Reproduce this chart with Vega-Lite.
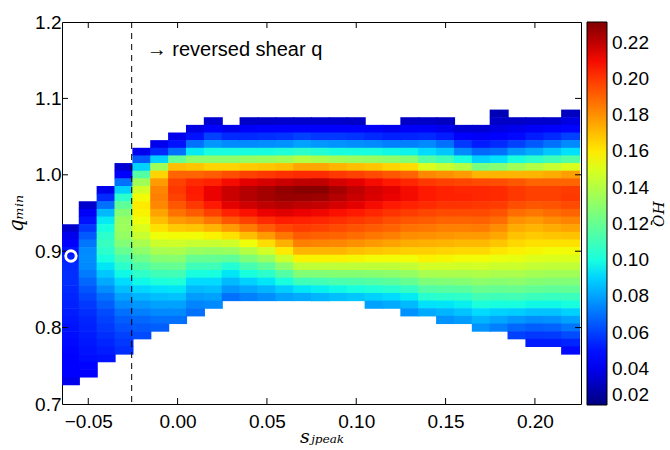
{
"$schema":"https://vega.github.io/schema/vega-lite/v6.json",
"width":519,"height":382,
"autosize":{"type":"none"},
"padding":{"left":62,"top":22,"right":89,"bottom":46},
"config":{"font":"Liberation Sans","view":{"stroke":"#000","strokeWidth":1},"axis":{"grid":false,"domain":false,"ticks":false,"labelColor":"#000","labelFontSize":19,"labelFont":"Liberation Sans"}},
"layer":[
{"data":{"values":[
{"s":-0.06,"q":0.93,"h":0.034},{"s":-0.06,"q":0.92,"h":0.040},{"s":-0.06,"q":0.91,"h":0.046},{"s":-0.06,"q":0.90,"h":0.050},{"s":-0.06,"q":0.89,"h":0.053},{"s":-0.06,"q":0.88,"h":0.055},{"s":-0.06,"q":0.87,"h":0.056},{"s":-0.06,"q":0.86,"h":0.056},{"s":-0.06,"q":0.85,"h":0.055},{"s":-0.06,"q":0.84,"h":0.054},{"s":-0.06,"q":0.83,"h":0.053},{"s":-0.06,"q":0.82,"h":0.052},{"s":-0.06,"q":0.81,"h":0.051},{"s":-0.06,"q":0.80,"h":0.050},{"s":-0.06,"q":0.79,"h":0.049},{"s":-0.06,"q":0.78,"h":0.048},{"s":-0.06,"q":0.77,"h":0.047},{"s":-0.06,"q":0.76,"h":0.046},{"s":-0.06,"q":0.75,"h":0.045},{"s":-0.06,"q":0.74,"h":0.043},{"s":-0.06,"q":0.73,"h":0.040},
{"s":-0.05,"q":0.96,"h":0.034},{"s":-0.05,"q":0.95,"h":0.042},{"s":-0.05,"q":0.94,"h":0.050},{"s":-0.05,"q":0.93,"h":0.058},{"s":-0.05,"q":0.92,"h":0.065},{"s":-0.05,"q":0.91,"h":0.071},{"s":-0.05,"q":0.90,"h":0.075},{"s":-0.05,"q":0.89,"h":0.076},{"s":-0.05,"q":0.88,"h":0.075},{"s":-0.05,"q":0.87,"h":0.072},{"s":-0.05,"q":0.86,"h":0.068},{"s":-0.05,"q":0.85,"h":0.064},{"s":-0.05,"q":0.84,"h":0.061},{"s":-0.05,"q":0.83,"h":0.058},{"s":-0.05,"q":0.82,"h":0.056},{"s":-0.05,"q":0.81,"h":0.054},{"s":-0.05,"q":0.80,"h":0.053},{"s":-0.05,"q":0.79,"h":0.052},{"s":-0.05,"q":0.78,"h":0.051},{"s":-0.05,"q":0.77,"h":0.050},{"s":-0.05,"q":0.76,"h":0.049},{"s":-0.05,"q":0.75,"h":0.047},{"s":-0.05,"q":0.74,"h":0.044},
{"s":-0.04,"q":0.98,"h":0.040},{"s":-0.04,"q":0.97,"h":0.055},{"s":-0.04,"q":0.96,"h":0.070},{"s":-0.04,"q":0.95,"h":0.085},{"s":-0.04,"q":0.94,"h":0.095},{"s":-0.04,"q":0.93,"h":0.100},{"s":-0.04,"q":0.92,"h":0.105},{"s":-0.04,"q":0.91,"h":0.108},{"s":-0.04,"q":0.90,"h":0.105},{"s":-0.04,"q":0.89,"h":0.100},{"s":-0.04,"q":0.88,"h":0.094},{"s":-0.04,"q":0.87,"h":0.088},{"s":-0.04,"q":0.86,"h":0.082},{"s":-0.04,"q":0.85,"h":0.076},{"s":-0.04,"q":0.84,"h":0.070},{"s":-0.04,"q":0.83,"h":0.066},{"s":-0.04,"q":0.82,"h":0.062},{"s":-0.04,"q":0.81,"h":0.060},{"s":-0.04,"q":0.80,"h":0.058},{"s":-0.04,"q":0.79,"h":0.056},{"s":-0.04,"q":0.78,"h":0.054},{"s":-0.04,"q":0.77,"h":0.052},{"s":-0.04,"q":0.76,"h":0.050},
{"s":-0.03,"q":1.01,"h":0.035},{"s":-0.03,"q":1.00,"h":0.045},{"s":-0.03,"q":0.99,"h":0.070},{"s":-0.03,"q":0.98,"h":0.090},{"s":-0.03,"q":0.97,"h":0.105},{"s":-0.03,"q":0.96,"h":0.118},{"s":-0.03,"q":0.95,"h":0.128},{"s":-0.03,"q":0.94,"h":0.133},{"s":-0.03,"q":0.93,"h":0.134},{"s":-0.03,"q":0.92,"h":0.132},{"s":-0.03,"q":0.91,"h":0.127},{"s":-0.03,"q":0.90,"h":0.120},{"s":-0.03,"q":0.89,"h":0.112},{"s":-0.03,"q":0.88,"h":0.105},{"s":-0.03,"q":0.87,"h":0.098},{"s":-0.03,"q":0.86,"h":0.092},{"s":-0.03,"q":0.85,"h":0.086},{"s":-0.03,"q":0.84,"h":0.080},{"s":-0.03,"q":0.83,"h":0.075},{"s":-0.03,"q":0.82,"h":0.070},{"s":-0.03,"q":0.81,"h":0.066},{"s":-0.03,"q":0.80,"h":0.063},{"s":-0.03,"q":0.79,"h":0.060},{"s":-0.03,"q":0.78,"h":0.058},{"s":-0.03,"q":0.77,"h":0.056},
{"s":-0.02,"q":1.03,"h":0.040},{"s":-0.02,"q":1.02,"h":0.065},{"s":-0.02,"q":1.01,"h":0.090},{"s":-0.02,"q":1.00,"h":0.115},{"s":-0.02,"q":0.99,"h":0.135},{"s":-0.02,"q":0.98,"h":0.148},{"s":-0.02,"q":0.97,"h":0.156},{"s":-0.02,"q":0.96,"h":0.160},{"s":-0.02,"q":0.95,"h":0.158},{"s":-0.02,"q":0.94,"h":0.155},{"s":-0.02,"q":0.93,"h":0.150},{"s":-0.02,"q":0.92,"h":0.145},{"s":-0.02,"q":0.91,"h":0.137},{"s":-0.02,"q":0.90,"h":0.130},{"s":-0.02,"q":0.89,"h":0.122},{"s":-0.02,"q":0.88,"h":0.114},{"s":-0.02,"q":0.87,"h":0.106},{"s":-0.02,"q":0.86,"h":0.098},{"s":-0.02,"q":0.85,"h":0.091},{"s":-0.02,"q":0.84,"h":0.084},{"s":-0.02,"q":0.83,"h":0.078},{"s":-0.02,"q":0.82,"h":0.073},{"s":-0.02,"q":0.81,"h":0.068},{"s":-0.02,"q":0.80,"h":0.065},{"s":-0.02,"q":0.79,"h":0.062},
{"s":-0.01,"q":1.04,"h":0.040},{"s":-0.01,"q":1.03,"h":0.055},{"s":-0.01,"q":1.02,"h":0.090},{"s":-0.01,"q":1.01,"h":0.135},{"s":-0.01,"q":1.00,"h":0.165},{"s":-0.01,"q":0.99,"h":0.178},{"s":-0.01,"q":0.98,"h":0.183},{"s":-0.01,"q":0.97,"h":0.184},{"s":-0.01,"q":0.96,"h":0.182},{"s":-0.01,"q":0.95,"h":0.176},{"s":-0.01,"q":0.94,"h":0.170},{"s":-0.01,"q":0.93,"h":0.162},{"s":-0.01,"q":0.92,"h":0.155},{"s":-0.01,"q":0.91,"h":0.146},{"s":-0.01,"q":0.90,"h":0.137},{"s":-0.01,"q":0.89,"h":0.128},{"s":-0.01,"q":0.88,"h":0.119},{"s":-0.01,"q":0.87,"h":0.110},{"s":-0.01,"q":0.86,"h":0.101},{"s":-0.01,"q":0.85,"h":0.093},{"s":-0.01,"q":0.84,"h":0.086},{"s":-0.01,"q":0.83,"h":0.080},{"s":-0.01,"q":0.82,"h":0.075},{"s":-0.01,"q":0.81,"h":0.070},{"s":-0.01,"q":0.80,"h":0.066},
{"s":0.00,"q":1.05,"h":0.040},{"s":0.00,"q":1.04,"h":0.050},{"s":0.00,"q":1.03,"h":0.070},{"s":0.00,"q":1.02,"h":0.120},{"s":0.00,"q":1.01,"h":0.170},{"s":0.00,"q":1.00,"h":0.190},{"s":0.00,"q":0.99,"h":0.198},{"s":0.00,"q":0.98,"h":0.200},{"s":0.00,"q":0.97,"h":0.198},{"s":0.00,"q":0.96,"h":0.193},{"s":0.00,"q":0.95,"h":0.187},{"s":0.00,"q":0.94,"h":0.178},{"s":0.00,"q":0.93,"h":0.167},{"s":0.00,"q":0.92,"h":0.156},{"s":0.00,"q":0.91,"h":0.147},{"s":0.00,"q":0.90,"h":0.138},{"s":0.00,"q":0.89,"h":0.129},{"s":0.00,"q":0.88,"h":0.120},{"s":0.00,"q":0.87,"h":0.111},{"s":0.00,"q":0.86,"h":0.102},{"s":0.00,"q":0.85,"h":0.094},{"s":0.00,"q":0.84,"h":0.087},{"s":0.00,"q":0.83,"h":0.080},{"s":0.00,"q":0.82,"h":0.075},{"s":0.00,"q":0.81,"h":0.070},
{"s":0.01,"q":1.06,"h":0.038},{"s":0.01,"q":1.05,"h":0.050},{"s":0.01,"q":1.04,"h":0.070},{"s":0.01,"q":1.03,"h":0.095},{"s":0.01,"q":1.02,"h":0.130},{"s":0.01,"q":1.01,"h":0.168},{"s":0.01,"q":1.00,"h":0.190},{"s":0.01,"q":0.99,"h":0.203},{"s":0.01,"q":0.98,"h":0.207},{"s":0.01,"q":0.97,"h":0.206},{"s":0.01,"q":0.96,"h":0.200},{"s":0.01,"q":0.95,"h":0.192},{"s":0.01,"q":0.94,"h":0.180},{"s":0.01,"q":0.93,"h":0.168},{"s":0.01,"q":0.92,"h":0.156},{"s":0.01,"q":0.91,"h":0.145},{"s":0.01,"q":0.90,"h":0.133},{"s":0.01,"q":0.89,"h":0.120},{"s":0.01,"q":0.88,"h":0.110},{"s":0.01,"q":0.87,"h":0.100},{"s":0.01,"q":0.86,"h":0.092},{"s":0.01,"q":0.85,"h":0.085},{"s":0.01,"q":0.84,"h":0.079},{"s":0.01,"q":0.83,"h":0.074},{"s":0.01,"q":0.82,"h":0.070},
{"s":0.02,"q":1.07,"h":0.035},{"s":0.02,"q":1.06,"h":0.045},{"s":0.02,"q":1.05,"h":0.060},{"s":0.02,"q":1.04,"h":0.078},{"s":0.02,"q":1.03,"h":0.100},{"s":0.02,"q":1.02,"h":0.130},{"s":0.02,"q":1.01,"h":0.165},{"s":0.02,"q":1.00,"h":0.192},{"s":0.02,"q":0.99,"h":0.205},{"s":0.02,"q":0.98,"h":0.212},{"s":0.02,"q":0.97,"h":0.212},{"s":0.02,"q":0.96,"h":0.207},{"s":0.02,"q":0.95,"h":0.198},{"s":0.02,"q":0.94,"h":0.186},{"s":0.02,"q":0.93,"h":0.172},{"s":0.02,"q":0.92,"h":0.158},{"s":0.02,"q":0.91,"h":0.145},{"s":0.02,"q":0.90,"h":0.132},{"s":0.02,"q":0.89,"h":0.120},{"s":0.02,"q":0.88,"h":0.110},{"s":0.02,"q":0.87,"h":0.100},{"s":0.02,"q":0.86,"h":0.092},{"s":0.02,"q":0.85,"h":0.086},{"s":0.02,"q":0.84,"h":0.080},{"s":0.02,"q":0.83,"h":0.075},
{"s":0.03,"q":1.06,"h":0.040},{"s":0.03,"q":1.05,"h":0.055},{"s":0.03,"q":1.04,"h":0.075},{"s":0.03,"q":1.03,"h":0.100},{"s":0.03,"q":1.02,"h":0.130},{"s":0.03,"q":1.01,"h":0.165},{"s":0.03,"q":1.00,"h":0.195},{"s":0.03,"q":0.99,"h":0.210},{"s":0.03,"q":0.98,"h":0.218},{"s":0.03,"q":0.97,"h":0.218},{"s":0.03,"q":0.96,"h":0.213},{"s":0.03,"q":0.95,"h":0.205},{"s":0.03,"q":0.94,"h":0.193},{"s":0.03,"q":0.93,"h":0.178},{"s":0.03,"q":0.92,"h":0.162},{"s":0.03,"q":0.91,"h":0.147},{"s":0.03,"q":0.90,"h":0.133},{"s":0.03,"q":0.89,"h":0.118},{"s":0.03,"q":0.88,"h":0.103},{"s":0.03,"q":0.87,"h":0.094},{"s":0.03,"q":0.86,"h":0.085},{"s":0.03,"q":0.85,"h":0.078},{"s":0.03,"q":0.84,"h":0.070},
{"s":0.04,"q":1.07,"h":0.033},{"s":0.04,"q":1.06,"h":0.042},{"s":0.04,"q":1.05,"h":0.055},{"s":0.04,"q":1.04,"h":0.075},{"s":0.04,"q":1.03,"h":0.100},{"s":0.04,"q":1.02,"h":0.132},{"s":0.04,"q":1.01,"h":0.167},{"s":0.04,"q":1.00,"h":0.198},{"s":0.04,"q":0.99,"h":0.213},{"s":0.04,"q":0.98,"h":0.222},{"s":0.04,"q":0.97,"h":0.222},{"s":0.04,"q":0.96,"h":0.217},{"s":0.04,"q":0.95,"h":0.209},{"s":0.04,"q":0.94,"h":0.198},{"s":0.04,"q":0.93,"h":0.185},{"s":0.04,"q":0.92,"h":0.170},{"s":0.04,"q":0.91,"h":0.155},{"s":0.04,"q":0.90,"h":0.140},{"s":0.04,"q":0.89,"h":0.126},{"s":0.04,"q":0.88,"h":0.112},{"s":0.04,"q":0.87,"h":0.100},{"s":0.04,"q":0.86,"h":0.090},{"s":0.04,"q":0.85,"h":0.081},{"s":0.04,"q":0.84,"h":0.073},
{"s":0.05,"q":1.07,"h":0.033},{"s":0.05,"q":1.06,"h":0.043},{"s":0.05,"q":1.05,"h":0.056},{"s":0.05,"q":1.04,"h":0.076},{"s":0.05,"q":1.03,"h":0.100},{"s":0.05,"q":1.02,"h":0.133},{"s":0.05,"q":1.01,"h":0.168},{"s":0.05,"q":1.00,"h":0.200},{"s":0.05,"q":0.99,"h":0.216},{"s":0.05,"q":0.98,"h":0.225},{"s":0.05,"q":0.97,"h":0.225},{"s":0.05,"q":0.96,"h":0.220},{"s":0.05,"q":0.95,"h":0.212},{"s":0.05,"q":0.94,"h":0.203},{"s":0.05,"q":0.93,"h":0.192},{"s":0.05,"q":0.92,"h":0.178},{"s":0.05,"q":0.91,"h":0.163},{"s":0.05,"q":0.90,"h":0.148},{"s":0.05,"q":0.89,"h":0.133},{"s":0.05,"q":0.88,"h":0.118},{"s":0.05,"q":0.87,"h":0.105},{"s":0.05,"q":0.86,"h":0.094},{"s":0.05,"q":0.85,"h":0.084},{"s":0.05,"q":0.84,"h":0.076},
{"s":0.06,"q":1.07,"h":0.034},{"s":0.06,"q":1.06,"h":0.044},{"s":0.06,"q":1.05,"h":0.057},{"s":0.06,"q":1.04,"h":0.077},{"s":0.06,"q":1.03,"h":0.102},{"s":0.06,"q":1.02,"h":0.135},{"s":0.06,"q":1.01,"h":0.170},{"s":0.06,"q":1.00,"h":0.202},{"s":0.06,"q":0.99,"h":0.218},{"s":0.06,"q":0.98,"h":0.228},{"s":0.06,"q":0.97,"h":0.227},{"s":0.06,"q":0.96,"h":0.222},{"s":0.06,"q":0.95,"h":0.214},{"s":0.06,"q":0.94,"h":0.206},{"s":0.06,"q":0.93,"h":0.197},{"s":0.06,"q":0.92,"h":0.186},{"s":0.06,"q":0.91,"h":0.173},{"s":0.06,"q":0.90,"h":0.160},{"s":0.06,"q":0.89,"h":0.146},{"s":0.06,"q":0.88,"h":0.130},{"s":0.06,"q":0.87,"h":0.115},{"s":0.06,"q":0.86,"h":0.100},{"s":0.06,"q":0.85,"h":0.089},{"s":0.06,"q":0.84,"h":0.080},
{"s":0.07,"q":1.07,"h":0.034},{"s":0.07,"q":1.06,"h":0.045},{"s":0.07,"q":1.05,"h":0.060},{"s":0.07,"q":1.04,"h":0.080},{"s":0.07,"q":1.03,"h":0.105},{"s":0.07,"q":1.02,"h":0.140},{"s":0.07,"q":1.01,"h":0.175},{"s":0.07,"q":1.00,"h":0.203},{"s":0.07,"q":0.99,"h":0.220},{"s":0.07,"q":0.98,"h":0.230},{"s":0.07,"q":0.97,"h":0.227},{"s":0.07,"q":0.96,"h":0.220},{"s":0.07,"q":0.95,"h":0.212},{"s":0.07,"q":0.94,"h":0.205},{"s":0.07,"q":0.93,"h":0.199},{"s":0.07,"q":0.92,"h":0.192},{"s":0.07,"q":0.91,"h":0.184},{"s":0.07,"q":0.90,"h":0.172},{"s":0.07,"q":0.89,"h":0.158},{"s":0.07,"q":0.88,"h":0.143},{"s":0.07,"q":0.87,"h":0.127},{"s":0.07,"q":0.86,"h":0.110},{"s":0.07,"q":0.85,"h":0.094},{"s":0.07,"q":0.84,"h":0.082},
{"s":0.08,"q":1.07,"h":0.034},{"s":0.08,"q":1.06,"h":0.045},{"s":0.08,"q":1.05,"h":0.058},{"s":0.08,"q":1.04,"h":0.078},{"s":0.08,"q":1.03,"h":0.103},{"s":0.08,"q":1.02,"h":0.138},{"s":0.08,"q":1.01,"h":0.175},{"s":0.08,"q":1.00,"h":0.203},{"s":0.08,"q":0.99,"h":0.220},{"s":0.08,"q":0.98,"h":0.230},{"s":0.08,"q":0.97,"h":0.226},{"s":0.08,"q":0.96,"h":0.219},{"s":0.08,"q":0.95,"h":0.211},{"s":0.08,"q":0.94,"h":0.204},{"s":0.08,"q":0.93,"h":0.198},{"s":0.08,"q":0.92,"h":0.191},{"s":0.08,"q":0.91,"h":0.183},{"s":0.08,"q":0.90,"h":0.172},{"s":0.08,"q":0.89,"h":0.158},{"s":0.08,"q":0.88,"h":0.143},{"s":0.08,"q":0.87,"h":0.127},{"s":0.08,"q":0.86,"h":0.111},{"s":0.08,"q":0.85,"h":0.096},{"s":0.08,"q":0.84,"h":0.084},
{"s":0.09,"q":1.07,"h":0.034},{"s":0.09,"q":1.06,"h":0.045},{"s":0.09,"q":1.05,"h":0.058},{"s":0.09,"q":1.04,"h":0.077},{"s":0.09,"q":1.03,"h":0.100},{"s":0.09,"q":1.02,"h":0.135},{"s":0.09,"q":1.01,"h":0.172},{"s":0.09,"q":1.00,"h":0.200},{"s":0.09,"q":0.99,"h":0.216},{"s":0.09,"q":0.98,"h":0.225},{"s":0.09,"q":0.97,"h":0.222},{"s":0.09,"q":0.96,"h":0.216},{"s":0.09,"q":0.95,"h":0.209},{"s":0.09,"q":0.94,"h":0.202},{"s":0.09,"q":0.93,"h":0.196},{"s":0.09,"q":0.92,"h":0.190},{"s":0.09,"q":0.91,"h":0.182},{"s":0.09,"q":0.90,"h":0.172},{"s":0.09,"q":0.89,"h":0.158},{"s":0.09,"q":0.88,"h":0.143},{"s":0.09,"q":0.87,"h":0.128},{"s":0.09,"q":0.86,"h":0.113},{"s":0.09,"q":0.85,"h":0.098},{"s":0.09,"q":0.84,"h":0.086},
{"s":0.10,"q":1.07,"h":0.033},{"s":0.10,"q":1.06,"h":0.044},{"s":0.10,"q":1.05,"h":0.057},{"s":0.10,"q":1.04,"h":0.076},{"s":0.10,"q":1.03,"h":0.100},{"s":0.10,"q":1.02,"h":0.133},{"s":0.10,"q":1.01,"h":0.170},{"s":0.10,"q":1.00,"h":0.198},{"s":0.10,"q":0.99,"h":0.213},{"s":0.10,"q":0.98,"h":0.220},{"s":0.10,"q":0.97,"h":0.218},{"s":0.10,"q":0.96,"h":0.213},{"s":0.10,"q":0.95,"h":0.207},{"s":0.10,"q":0.94,"h":0.200},{"s":0.10,"q":0.93,"h":0.194},{"s":0.10,"q":0.92,"h":0.188},{"s":0.10,"q":0.91,"h":0.180},{"s":0.10,"q":0.90,"h":0.170},{"s":0.10,"q":0.89,"h":0.157},{"s":0.10,"q":0.88,"h":0.143},{"s":0.10,"q":0.87,"h":0.128},{"s":0.10,"q":0.86,"h":0.114},{"s":0.10,"q":0.85,"h":0.100},{"s":0.10,"q":0.84,"h":0.088},
{"s":0.11,"q":1.06,"h":0.042},{"s":0.11,"q":1.05,"h":0.055},{"s":0.11,"q":1.04,"h":0.075},{"s":0.11,"q":1.03,"h":0.100},{"s":0.11,"q":1.02,"h":0.132},{"s":0.11,"q":1.01,"h":0.168},{"s":0.11,"q":1.00,"h":0.196},{"s":0.11,"q":0.99,"h":0.210},{"s":0.11,"q":0.98,"h":0.216},{"s":0.11,"q":0.97,"h":0.215},{"s":0.11,"q":0.96,"h":0.210},{"s":0.11,"q":0.95,"h":0.204},{"s":0.11,"q":0.94,"h":0.198},{"s":0.11,"q":0.93,"h":0.192},{"s":0.11,"q":0.92,"h":0.186},{"s":0.11,"q":0.91,"h":0.178},{"s":0.11,"q":0.90,"h":0.168},{"s":0.11,"q":0.89,"h":0.156},{"s":0.11,"q":0.88,"h":0.143},{"s":0.11,"q":0.87,"h":0.129},{"s":0.11,"q":0.86,"h":0.115},{"s":0.11,"q":0.85,"h":0.102},{"s":0.11,"q":0.84,"h":0.090},{"s":0.11,"q":0.83,"h":0.080},
{"s":0.12,"q":1.06,"h":0.040},{"s":0.12,"q":1.05,"h":0.053},{"s":0.12,"q":1.04,"h":0.073},{"s":0.12,"q":1.03,"h":0.098},{"s":0.12,"q":1.02,"h":0.130},{"s":0.12,"q":1.01,"h":0.165},{"s":0.12,"q":1.00,"h":0.193},{"s":0.12,"q":0.99,"h":0.207},{"s":0.12,"q":0.98,"h":0.213},{"s":0.12,"q":0.97,"h":0.212},{"s":0.12,"q":0.96,"h":0.207},{"s":0.12,"q":0.95,"h":0.201},{"s":0.12,"q":0.94,"h":0.195},{"s":0.12,"q":0.93,"h":0.190},{"s":0.12,"q":0.92,"h":0.184},{"s":0.12,"q":0.91,"h":0.176},{"s":0.12,"q":0.90,"h":0.167},{"s":0.12,"q":0.89,"h":0.156},{"s":0.12,"q":0.88,"h":0.143},{"s":0.12,"q":0.87,"h":0.130},{"s":0.12,"q":0.86,"h":0.117},{"s":0.12,"q":0.85,"h":0.104},{"s":0.12,"q":0.84,"h":0.092},{"s":0.12,"q":0.83,"h":0.082},
{"s":0.13,"q":1.07,"h":0.033},{"s":0.13,"q":1.06,"h":0.042},{"s":0.13,"q":1.05,"h":0.054},{"s":0.13,"q":1.04,"h":0.073},{"s":0.13,"q":1.03,"h":0.097},{"s":0.13,"q":1.02,"h":0.128},{"s":0.13,"q":1.01,"h":0.163},{"s":0.13,"q":1.00,"h":0.190},{"s":0.13,"q":0.99,"h":0.204},{"s":0.13,"q":0.98,"h":0.210},{"s":0.13,"q":0.97,"h":0.210},{"s":0.13,"q":0.96,"h":0.205},{"s":0.13,"q":0.95,"h":0.199},{"s":0.13,"q":0.94,"h":0.193},{"s":0.13,"q":0.93,"h":0.187},{"s":0.13,"q":0.92,"h":0.181},{"s":0.13,"q":0.91,"h":0.174},{"s":0.13,"q":0.90,"h":0.166},{"s":0.13,"q":0.89,"h":0.156},{"s":0.13,"q":0.88,"h":0.144},{"s":0.13,"q":0.87,"h":0.132},{"s":0.13,"q":0.86,"h":0.120},{"s":0.13,"q":0.85,"h":0.107},{"s":0.13,"q":0.84,"h":0.095},{"s":0.13,"q":0.83,"h":0.085},{"s":0.13,"q":0.82,"h":0.077},
{"s":0.14,"q":1.07,"h":0.033},{"s":0.14,"q":1.06,"h":0.042},{"s":0.14,"q":1.05,"h":0.055},{"s":0.14,"q":1.04,"h":0.075},{"s":0.14,"q":1.03,"h":0.092},{"s":0.14,"q":1.02,"h":0.115},{"s":0.14,"q":1.01,"h":0.150},{"s":0.14,"q":1.00,"h":0.182},{"s":0.14,"q":0.99,"h":0.200},{"s":0.14,"q":0.98,"h":0.207},{"s":0.14,"q":0.97,"h":0.207},{"s":0.14,"q":0.96,"h":0.203},{"s":0.14,"q":0.95,"h":0.197},{"s":0.14,"q":0.94,"h":0.192},{"s":0.14,"q":0.93,"h":0.186},{"s":0.14,"q":0.92,"h":0.180},{"s":0.14,"q":0.91,"h":0.173},{"s":0.14,"q":0.90,"h":0.166},{"s":0.14,"q":0.89,"h":0.158},{"s":0.14,"q":0.88,"h":0.148},{"s":0.14,"q":0.87,"h":0.137},{"s":0.14,"q":0.86,"h":0.126},{"s":0.14,"q":0.85,"h":0.115},{"s":0.14,"q":0.84,"h":0.104},{"s":0.14,"q":0.83,"h":0.093},{"s":0.14,"q":0.82,"h":0.082},
{"s":0.15,"q":1.07,"h":0.032},{"s":0.15,"q":1.06,"h":0.040},{"s":0.15,"q":1.05,"h":0.052},{"s":0.15,"q":1.04,"h":0.070},{"s":0.15,"q":1.03,"h":0.088},{"s":0.15,"q":1.02,"h":0.110},{"s":0.15,"q":1.01,"h":0.145},{"s":0.15,"q":1.00,"h":0.180},{"s":0.15,"q":0.99,"h":0.198},{"s":0.15,"q":0.98,"h":0.205},{"s":0.15,"q":0.97,"h":0.205},{"s":0.15,"q":0.96,"h":0.201},{"s":0.15,"q":0.95,"h":0.196},{"s":0.15,"q":0.94,"h":0.190},{"s":0.15,"q":0.93,"h":0.184},{"s":0.15,"q":0.92,"h":0.179},{"s":0.15,"q":0.91,"h":0.172},{"s":0.15,"q":0.90,"h":0.165},{"s":0.15,"q":0.89,"h":0.157},{"s":0.15,"q":0.88,"h":0.148},{"s":0.15,"q":0.87,"h":0.138},{"s":0.15,"q":0.86,"h":0.127},{"s":0.15,"q":0.85,"h":0.116},{"s":0.15,"q":0.84,"h":0.105},{"s":0.15,"q":0.83,"h":0.094},{"s":0.15,"q":0.82,"h":0.084},{"s":0.15,"q":0.81,"h":0.077},
{"s":0.16,"q":1.06,"h":0.035},{"s":0.16,"q":1.05,"h":0.045},{"s":0.16,"q":1.04,"h":0.058},{"s":0.16,"q":1.03,"h":0.075},{"s":0.16,"q":1.02,"h":0.100},{"s":0.16,"q":1.01,"h":0.140},{"s":0.16,"q":1.00,"h":0.178},{"s":0.16,"q":0.99,"h":0.197},{"s":0.16,"q":0.98,"h":0.204},{"s":0.16,"q":0.97,"h":0.205},{"s":0.16,"q":0.96,"h":0.201},{"s":0.16,"q":0.95,"h":0.196},{"s":0.16,"q":0.94,"h":0.190},{"s":0.16,"q":0.93,"h":0.184},{"s":0.16,"q":0.92,"h":0.178},{"s":0.16,"q":0.91,"h":0.171},{"s":0.16,"q":0.90,"h":0.164},{"s":0.16,"q":0.89,"h":0.156},{"s":0.16,"q":0.88,"h":0.147},{"s":0.16,"q":0.87,"h":0.138},{"s":0.16,"q":0.86,"h":0.128},{"s":0.16,"q":0.85,"h":0.117},{"s":0.16,"q":0.84,"h":0.106},{"s":0.16,"q":0.83,"h":0.096},{"s":0.16,"q":0.82,"h":0.087},{"s":0.16,"q":0.81,"h":0.079},
{"s":0.17,"q":1.06,"h":0.035},{"s":0.17,"q":1.05,"h":0.042},{"s":0.17,"q":1.04,"h":0.052},{"s":0.17,"q":1.03,"h":0.068},{"s":0.17,"q":1.02,"h":0.090},{"s":0.17,"q":1.01,"h":0.125},{"s":0.17,"q":1.00,"h":0.172},{"s":0.17,"q":0.99,"h":0.196},{"s":0.17,"q":0.98,"h":0.204},{"s":0.17,"q":0.97,"h":0.204},{"s":0.17,"q":0.96,"h":0.200},{"s":0.17,"q":0.95,"h":0.196},{"s":0.17,"q":0.94,"h":0.191},{"s":0.17,"q":0.93,"h":0.185},{"s":0.17,"q":0.92,"h":0.178},{"s":0.17,"q":0.91,"h":0.171},{"s":0.17,"q":0.90,"h":0.164},{"s":0.17,"q":0.89,"h":0.156},{"s":0.17,"q":0.88,"h":0.148},{"s":0.17,"q":0.87,"h":0.139},{"s":0.17,"q":0.86,"h":0.130},{"s":0.17,"q":0.85,"h":0.121},{"s":0.17,"q":0.84,"h":0.111},{"s":0.17,"q":0.83,"h":0.101},{"s":0.17,"q":0.82,"h":0.092},{"s":0.17,"q":0.81,"h":0.084},{"s":0.17,"q":0.80,"h":0.077},
{"s":0.18,"q":1.08,"h":0.030},{"s":0.18,"q":1.07,"h":0.033},{"s":0.18,"q":1.06,"h":0.038},{"s":0.18,"q":1.05,"h":0.045},{"s":0.18,"q":1.04,"h":0.055},{"s":0.18,"q":1.03,"h":0.070},{"s":0.18,"q":1.02,"h":0.093},{"s":0.18,"q":1.01,"h":0.128},{"s":0.18,"q":1.00,"h":0.172},{"s":0.18,"q":0.99,"h":0.195},{"s":0.18,"q":0.98,"h":0.203},{"s":0.18,"q":0.97,"h":0.203},{"s":0.18,"q":0.96,"h":0.199},{"s":0.18,"q":0.95,"h":0.194},{"s":0.18,"q":0.94,"h":0.188},{"s":0.18,"q":0.93,"h":0.181},{"s":0.18,"q":0.92,"h":0.175},{"s":0.18,"q":0.91,"h":0.168},{"s":0.18,"q":0.90,"h":0.161},{"s":0.18,"q":0.89,"h":0.154},{"s":0.18,"q":0.88,"h":0.146},{"s":0.18,"q":0.87,"h":0.138},{"s":0.18,"q":0.86,"h":0.129},{"s":0.18,"q":0.85,"h":0.120},{"s":0.18,"q":0.84,"h":0.110},{"s":0.18,"q":0.83,"h":0.100},{"s":0.18,"q":0.82,"h":0.090},{"s":0.18,"q":0.81,"h":0.081},{"s":0.18,"q":0.80,"h":0.073},
{"s":0.19,"q":1.07,"h":0.033},{"s":0.19,"q":1.06,"h":0.040},{"s":0.19,"q":1.05,"h":0.048},{"s":0.19,"q":1.04,"h":0.060},{"s":0.19,"q":1.03,"h":0.078},{"s":0.19,"q":1.02,"h":0.100},{"s":0.19,"q":1.01,"h":0.135},{"s":0.19,"q":1.00,"h":0.172},{"s":0.19,"q":0.99,"h":0.193},{"s":0.19,"q":0.98,"h":0.200},{"s":0.19,"q":0.97,"h":0.200},{"s":0.19,"q":0.96,"h":0.195},{"s":0.19,"q":0.95,"h":0.188},{"s":0.19,"q":0.94,"h":0.180},{"s":0.19,"q":0.93,"h":0.174},{"s":0.19,"q":0.92,"h":0.169},{"s":0.19,"q":0.91,"h":0.164},{"s":0.19,"q":0.90,"h":0.159},{"s":0.19,"q":0.89,"h":0.153},{"s":0.19,"q":0.88,"h":0.146},{"s":0.19,"q":0.87,"h":0.138},{"s":0.19,"q":0.86,"h":0.130},{"s":0.19,"q":0.85,"h":0.121},{"s":0.19,"q":0.84,"h":0.111},{"s":0.19,"q":0.83,"h":0.100},{"s":0.19,"q":0.82,"h":0.089},{"s":0.19,"q":0.81,"h":0.078},{"s":0.19,"q":0.80,"h":0.068},{"s":0.19,"q":0.79,"h":0.060},
{"s":0.20,"q":1.07,"h":0.034},{"s":0.20,"q":1.06,"h":0.042},{"s":0.20,"q":1.05,"h":0.052},{"s":0.20,"q":1.04,"h":0.065},{"s":0.20,"q":1.03,"h":0.082},{"s":0.20,"q":1.02,"h":0.105},{"s":0.20,"q":1.01,"h":0.140},{"s":0.20,"q":1.00,"h":0.172},{"s":0.20,"q":0.99,"h":0.190},{"s":0.20,"q":0.98,"h":0.198},{"s":0.20,"q":0.97,"h":0.198},{"s":0.20,"q":0.96,"h":0.193},{"s":0.20,"q":0.95,"h":0.186},{"s":0.20,"q":0.94,"h":0.178},{"s":0.20,"q":0.93,"h":0.172},{"s":0.20,"q":0.92,"h":0.167},{"s":0.20,"q":0.91,"h":0.162},{"s":0.20,"q":0.90,"h":0.157},{"s":0.20,"q":0.89,"h":0.151},{"s":0.20,"q":0.88,"h":0.144},{"s":0.20,"q":0.87,"h":0.136},{"s":0.20,"q":0.86,"h":0.128},{"s":0.20,"q":0.85,"h":0.119},{"s":0.20,"q":0.84,"h":0.109},{"s":0.20,"q":0.83,"h":0.098},{"s":0.20,"q":0.82,"h":0.087},{"s":0.20,"q":0.81,"h":0.076},{"s":0.20,"q":0.80,"h":0.066},{"s":0.20,"q":0.79,"h":0.058},{"s":0.20,"q":0.78,"h":0.052},
{"s":0.21,"q":1.07,"h":0.034},{"s":0.21,"q":1.06,"h":0.043},{"s":0.21,"q":1.05,"h":0.055},{"s":0.21,"q":1.04,"h":0.070},{"s":0.21,"q":1.03,"h":0.088},{"s":0.21,"q":1.02,"h":0.110},{"s":0.21,"q":1.01,"h":0.145},{"s":0.21,"q":1.00,"h":0.174},{"s":0.21,"q":0.99,"h":0.190},{"s":0.21,"q":0.98,"h":0.198},{"s":0.21,"q":0.97,"h":0.198},{"s":0.21,"q":0.96,"h":0.194},{"s":0.21,"q":0.95,"h":0.188},{"s":0.21,"q":0.94,"h":0.181},{"s":0.21,"q":0.93,"h":0.174},{"s":0.21,"q":0.92,"h":0.168},{"s":0.21,"q":0.91,"h":0.162},{"s":0.21,"q":0.90,"h":0.156},{"s":0.21,"q":0.89,"h":0.150},{"s":0.21,"q":0.88,"h":0.143},{"s":0.21,"q":0.87,"h":0.135},{"s":0.21,"q":0.86,"h":0.127},{"s":0.21,"q":0.85,"h":0.118},{"s":0.21,"q":0.84,"h":0.108},{"s":0.21,"q":0.83,"h":0.098},{"s":0.21,"q":0.82,"h":0.087},{"s":0.21,"q":0.81,"h":0.077},{"s":0.21,"q":0.80,"h":0.067},{"s":0.21,"q":0.79,"h":0.059},{"s":0.21,"q":0.78,"h":0.052},
{"s":0.22,"q":1.08,"h":0.032},{"s":0.22,"q":1.07,"h":0.038},{"s":0.22,"q":1.06,"h":0.047},{"s":0.22,"q":1.05,"h":0.060},{"s":0.22,"q":1.04,"h":0.075},{"s":0.22,"q":1.03,"h":0.093},{"s":0.22,"q":1.02,"h":0.115},{"s":0.22,"q":1.01,"h":0.150},{"s":0.22,"q":1.00,"h":0.177},{"s":0.22,"q":0.99,"h":0.190},{"s":0.22,"q":0.98,"h":0.199},{"s":0.22,"q":0.97,"h":0.200},{"s":0.22,"q":0.96,"h":0.196},{"s":0.22,"q":0.95,"h":0.190},{"s":0.22,"q":0.94,"h":0.183},{"s":0.22,"q":0.93,"h":0.176},{"s":0.22,"q":0.92,"h":0.169},{"s":0.22,"q":0.91,"h":0.162},{"s":0.22,"q":0.90,"h":0.156},{"s":0.22,"q":0.89,"h":0.150},{"s":0.22,"q":0.88,"h":0.143},{"s":0.22,"q":0.87,"h":0.135},{"s":0.22,"q":0.86,"h":0.127},{"s":0.22,"q":0.85,"h":0.119},{"s":0.22,"q":0.84,"h":0.109},{"s":0.22,"q":0.83,"h":0.100},{"s":0.22,"q":0.82,"h":0.090},{"s":0.22,"q":0.81,"h":0.080},{"s":0.22,"q":0.80,"h":0.071},{"s":0.22,"q":0.79,"h":0.062},{"s":0.22,"q":0.78,"h":0.054},{"s":0.22,"q":0.77,"h":0.048}
]},
"mark":{"type":"rect","width":19,"height":8.2,"clip":true},
"encoding":{
"x":{"field":"s","type":"quantitative","scale":{"domain":[-0.0647,0.2258],"nice":false,"zero":false},"axis":{"values":[-0.05,0,0.05,0.1,0.15,0.2],"format":".2f","labelPadding":8,"title":"sⱼₚₑₐₖ","titleFont":"DejaVu Serif","titleFontStyle":"italic","titleFontWeight":"normal","titleFontSize":19,"titlePadding":-4}},
"y":{"field":"q","type":"quantitative","scale":{"domain":[0.7,1.2],"nice":false,"zero":false},"axis":{"values":[0.7,0.8,0.9,1.0,1.1,1.2],"format":".1f","labelPadding":1,"title":"qₘᵢₙ","titleFont":"DejaVu Serif","titleFontStyle":"italic","titleFontWeight":"normal","titleFontSize":20,"titlePadding":8}},
"color":{"field":"h","type":"quantitative","scale":{"domain":[0.02,0.04327,0.04644,0.09191,0.09403,0.09931,0.15536,0.15748,0.15959,0.20824,0.21247,0.2315],"range":["#000080","#0000ff","#0000ff","#00dbff","#00e6f7","#15ffe2","#efff08","#f7f500","#ffec00","#ff1300","#e80000","#800000"],"interpolate":"rgb","clamp":true},
"legend":{"orient":"right","offset":6,"direction":"vertical","gradientLength":383,"gradientThickness":20,"gradientStrokeColor":"#000","gradientStrokeWidth":1,"values":[0.02,0.04,0.06,0.08,0.10,0.12,0.14,0.16,0.18,0.20,0.22],"format":".2f","labelFontSize":19,"labelFont":"Liberation Sans","labelColor":"#000","labelOffset":5,"labelOverlap":false,"title":"HQ","titleOrient":"right","titleAngle":270,"titleAnchor":"middle","titleFont":"DejaVu Serif","titleFontStyle":"italic","titleFontWeight":"normal","titleFontSize":15,"titlePadding":1,"titleColor":"#000"}}
}},
{"data":{"values":[{"s":-0.05,"q":0.7},{"s":0,"q":0.7},{"s":0.05,"q":0.7},{"s":0.1,"q":0.7},{"s":0.15,"q":0.7},{"s":0.2,"q":0.7},{"s":-0.05,"q":1.2},{"s":0,"q":1.2},{"s":0.05,"q":1.2},{"s":0.1,"q":1.2},{"s":0.15,"q":1.2},{"s":0.2,"q":1.2}]},
"mark":{"type":"tick","orient":"vertical","size":12,"thickness":1,"color":"#000","opacity":1,"clip":true},
"encoding":{"x":{"field":"s","type":"quantitative"},"y":{"field":"q","type":"quantitative"}}},
{"data":{"values":[{"s":-0.0647,"q":0.8},{"s":-0.0647,"q":0.9},{"s":-0.0647,"q":1.0},{"s":-0.0647,"q":1.1},{"s":0.2258,"q":0.8},{"s":0.2258,"q":0.9},{"s":0.2258,"q":1.0},{"s":0.2258,"q":1.1}]},
"mark":{"type":"tick","orient":"horizontal","size":12,"thickness":1,"color":"#000","opacity":1,"clip":true},
"encoding":{"x":{"field":"s","type":"quantitative"},"y":{"field":"q","type":"quantitative"}}},
{"data":{"values":[{"s":-0.0257}]},
"mark":{"type":"rule","color":"#000","strokeWidth":1,"strokeDash":[6,5]},
"encoding":{"x":{"field":"s","type":"quantitative"}}},
{"data":{"values":[{"s":-0.0597,"q":0.8937}]},
"mark":{"type":"point","shape":"circle","filled":false,"stroke":"#fff","strokeWidth":2.8,"size":110,"opacity":1},
"encoding":{"x":{"field":"s","type":"quantitative"},"y":{"field":"q","type":"quantitative"}}},
{"data":{"values":[{"s":-0.0173,"q":1.163,"t":"→ reversed shear q"}]},
"mark":{"type":"text","align":"left","baseline":"middle","fontSize":20,"font":"Liberation Sans","color":"#000"},
"encoding":{"x":{"field":"s","type":"quantitative"},"y":{"field":"q","type":"quantitative"},"text":{"field":"t"}}}
]
}
